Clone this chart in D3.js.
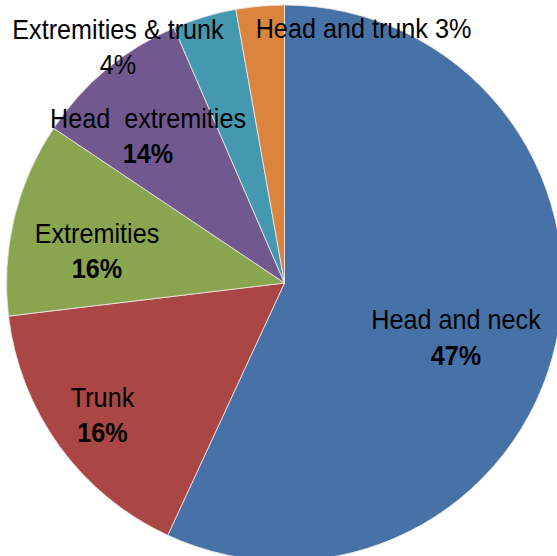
<!DOCTYPE html>
<html>
<head>
<meta charset="utf-8">
<script src="https://cdn.jsdelivr.net/npm/d3@7"></script>
<style>
  html, body { margin: 0; padding: 0; background: #fff; }
  svg { display: block; }
</style>
</head>
<body>
<svg id="chart" width="557" height="556"></svg>
<script>
// Data
const categories = ["Head and neck", "Trunk", "Extremities", "Head  extremities", "Extremities & trunk", "Head and trunk"];
const sliceValues = [56.9, 16.2, 11.3, 9.1, 3.7, 2.8];
const percentLabels = ["47%", "16%", "16%", "14%", "4%", "3%"];
const colors = ["#4672A8", "#AA4744", "#8AA54F", "#71598F", "#4499B0", "#DB843D"];

// Label layout (pixel anchors, text centre x / first-line baseline y)
const labelLayout = [
  { x: 456, y: 329, bold: true, inline: false },
  { x: 102.5, y: 406.5, bold: true, inline: false },
  { x: 97, y: 242.5, bold: true, inline: false },
  { x: 148, y: 127.5, bold: true, inline: false },
  { x: 118, y: 38.5, bold: false, inline: false },
  { x: 363.5, y: 37.5, bold: false, inline: true }
];

const W = 557, H = 556;
const cx = 284.5, cy = 283, R = 278;
const svg = d3.select("#chart");
const g = svg.append("g").attr("transform", `translate(${cx},${cy})`);

const pie = d3.pie().sort(null).value(d => d).startAngle(0).endAngle(2 * Math.PI);
const arc = d3.arc().innerRadius(0).outerRadius(R);
const color = d3.scaleOrdinal().domain(categories).range(colors);

g.selectAll("path.slice")
  .data(pie(sliceValues))
  .join("path")
  .attr("class", "slice")
  .attr("d", arc)
  .attr("fill", (d, i) => color(categories[i]))
  .attr("stroke", "#f3e9ea")
  .attr("stroke-width", 0.8);

const fs = 28, sx = 0.9, lineGap = 35.5;
const labels = svg.append("g")
  .attr("font-family", "'Liberation Sans', Arial, sans-serif")
  .attr("font-size", fs)
  .attr("fill", "#000");

categories.forEach((c, i) => {
  const L = labelLayout[i];
  if (L.inline) {
    labels.append("text")
      .attr("transform", `translate(${L.x},${L.y}) scale(${sx},1)`)
      .attr("text-anchor", "middle")
      .text(`${c} ${percentLabels[i]}`);
  } else {
    labels.append("text")
      .attr("transform", `translate(${L.x},${L.y}) scale(${sx},1)`)
      .attr("text-anchor", "middle")
      .attr("xml:space", "preserve")
      .style("white-space", "pre")
      .text(c);
    labels.append("text")
      .attr("transform", `translate(${L.x},${L.y + lineGap}) scale(${sx},1)`)
      .attr("text-anchor", "middle")
      .attr("font-weight", L.bold ? "bold" : "normal")
      .text(percentLabels[i]);
  }
});
</script>
</body>
</html>
